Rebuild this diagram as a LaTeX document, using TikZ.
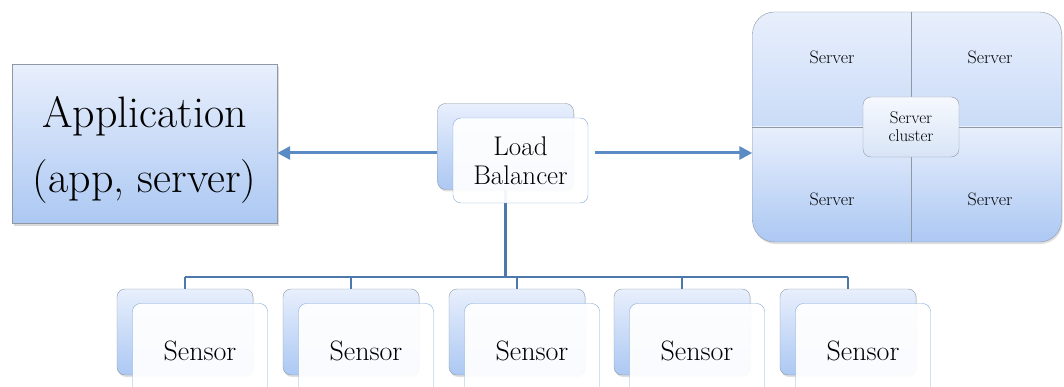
\documentclass[tikz,border=0pt]{standalone}
\usepackage{tikz}
\usetikzlibrary{positioning,calc}
\usetikzlibrary{shadows,arrows.meta}
\definecolor{boxtop}{HTML}{E8EFFC}
\definecolor{boxbot}{HTML}{ACC8F3}
\definecolor{edgegray}{HTML}{8F99A6}
\definecolor{linkblue}{HTML}{5B8BC5}
\definecolor{busblue}{HTML}{4C78AB}
\definecolor{frontedge}{HTML}{82AAD8}
\definecolor{coretop}{HTML}{F6F9FE}
\definecolor{corebot}{HTML}{D8E4F6}
\tikzstyle{appbox} = [rectangle, minimum width=265pt, minimum height=159pt, draw=edgegray, top color=boxtop, bottom color=boxbot, drop shadow={opacity=0.3, shadow xshift=2pt, shadow yshift=-3pt}]
\tikzstyle{backbox} = [rectangle, rounded corners=8pt, minimum width=136pt, minimum height=86pt, draw=edgegray, top color=boxtop, bottom color=boxbot, drop shadow={opacity=0.25, shadow xshift=1pt, shadow yshift=-2pt}]
\tikzstyle{frontbox} = [rectangle, rounded corners=8pt, minimum width=135pt, minimum height=85pt, draw=frontedge, fill=white, fill opacity=0.93, text opacity=1, align=center]
\tikzstyle{clusterbox} = [rectangle, rounded corners=22pt, minimum width=309pt, minimum height=230pt, draw=edgegray, fill=boxtop, drop shadow={opacity=0.25, shadow xshift=1pt, shadow yshift=-2pt}]
\tikzstyle{corebox} = [rectangle, rounded corners=8pt, minimum width=96pt, minimum height=60pt, draw=edgegray, top color=coretop, bottom color=corebot, align=center, font=\fontsize{17}{18}\selectfont]
\tikzstyle{srvlabel} = [font=\fontsize{18}{20}\selectfont]
\tikzstyle{arrow} = [line width=3pt, linkblue, -{Triangle[length=13pt,width=13pt]}]
\tikzstyle{bus} = [line width=2.6pt, busblue]

\begin{document}
\begin{tikzpicture}[x=1pt, y=-1pt]
\useasboundingbox (0,0) rectangle (1064,387);
\clip (0,0) rectangle (1064,387);

\node (app) at (144.5,144) [appbox, label={[align=center, font=\fontsize{44}{65}\selectfont, yshift=-6pt]center:Application\\(app, server)}] {};

\node (lbback) at (505.5,146.5) [backbox] {};

\coordinate (hub) at (911,127);
\node (cluster) at (907,127) [clusterbox, path picture={
  \shade[sharp corners, top color=boxtop, bottom color=boxbot] (path picture bounding box.north west) rectangle (path picture bounding box.east);
  \shade[sharp corners, top color=boxtop, bottom color=boxbot] (path picture bounding box.west) rectangle (path picture bounding box.south east);
}] {};
\draw[edgegray] (cluster.north -| hub) -- (cluster.south -| hub);
\draw[edgegray] (cluster.west) -- (cluster.east);
\node[srvlabel] (srv1) at (832,57) {Server};
\node[srvlabel] (srv2) at (990,57) {Server};
\node[srvlabel] (srv3) at (832,199) {Server};
\node[srvlabel] (srv4) at (990,199) {Server};
\node (core) at (hub) [corebox] {Server\\cluster};

\foreach \i/\x in {1/185,2/351,3/517,4/682,5/848}
  \node (sb\i) at (\x,332) [backbox] {};

\coordinate (link) at (0,153);
\coordinate (busline) at (0,277);
\draw[arrow] (lbback.west |- link) -- (app.east |- link);
\draw[bus] (lbback.south) -- (lbback.south |- busline);
\draw[bus] (sb1.north |- busline) -- (sb5.north |- busline);
\foreach \i in {1,...,5}
  \draw[bus] (sb\i.north |- busline) -- (sb\i.north);

\node (lb) at ($(lbback)+(15,14)$) [frontbox, font=\fontsize{27}{29}\selectfont] {Load\\Balancer};
\draw[arrow, shorten <=7pt] (lb.east |- link) -- (cluster.west |- link);

\foreach \i in {1,...,5}
  \node (s\i) at ($(sb\i)+(15,19)$) [frontbox, minimum height=95pt, font=\fontsize{28}{30}\selectfont] {Sensor};
\end{tikzpicture}
\end{document}
